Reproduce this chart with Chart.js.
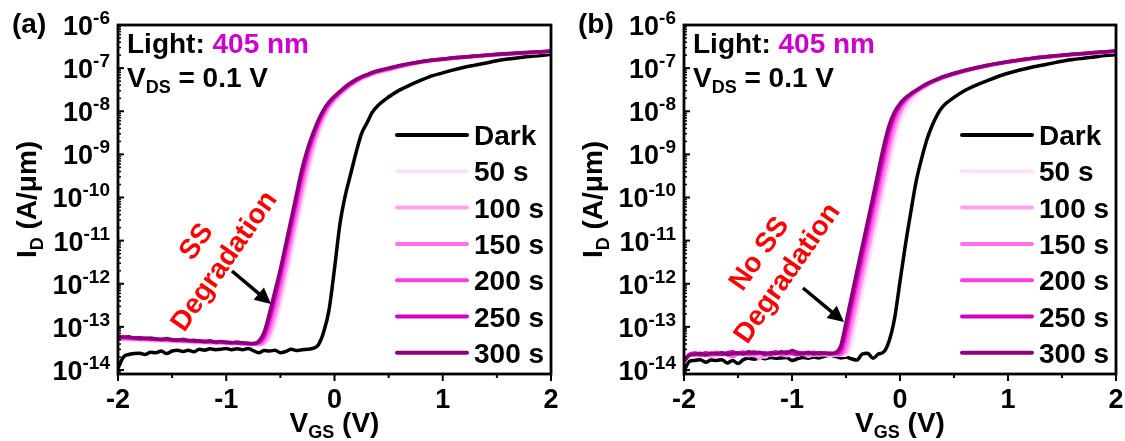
<!DOCTYPE html>
<html>
<head>
<meta charset="utf-8">
<script src="https://cdn.jsdelivr.net/npm/chart.js@4.4.1/dist/chart.umd.min.js"></script>
<style>
  html, body { margin: 0; padding: 0; background: #fff; }
  #wrap { position: relative; width: 1125px; height: 441px; }
  canvas { position: absolute; top: 0; }
  #cA { left: 0; }
  #cB { left: 560px; }
</style>
</head>
<body>
<div id="wrap">
  <canvas id="cA" width="560" height="441" style="width:560px;height:441px"></canvas>
  <canvas id="cB" width="565" height="441" style="width:565px;height:441px"></canvas>
</div>
<script>
// ---- data ----
// gate voltage sweep (V)
const vgs = [
  -2, -1.95, -1.9, -1.85, -1.8, -1.75, -1.7, -1.65, -1.6, -1.55, -1.5, -1.45, -1.4,
  -1.35, -1.3, -1.25, -1.2, -1.15, -1.1, -1.05, -1, -0.95, -0.9, -0.85, -0.8, -0.75,
  -0.7, -0.65, -0.6, -0.55, -0.5, -0.45, -0.4, -0.35, -0.3, -0.25, -0.2, -0.15, -0.1,
  -0.05, 0, 0.05, 0.1, 0.15, 0.2, 0.25, 0.3, 0.35, 0.4,
  0.5, 0.6, 0.7, 0.8, 0.9, 1, 1.1, 1.2, 1.3, 1.4, 1.5, 1.6, 1.7, 1.8, 1.9, 2
];

const seriesLabels = ["Dark", "50 s", "100 s", "150 s", "200 s", "250 s", "300 s"];
const seriesColors = ["#000000", "#ffe0f8", "#ffa0f0", "#ff70ec", "#ff40e6", "#d400bf", "#8b0079"];

// log10(I_D in A/um), panel (a)
const darkA = [
  -13.96, -13.70, -13.64, -13.62, -13.61, -13.64, -13.59, -13.60, -13.56, -13.62, -13.56, -13.54, -13.57,
  -13.54, -13.58, -13.52, -13.54, -13.51, -13.53, -13.52, -13.50, -13.53, -13.51, -13.53, -13.50, -13.55,
  -13.60, -13.55, -13.56, -13.54, -13.60, -13.57, -13.52, -13.55, -13.53, -13.52, -13.50, -13.42, -13.12,
  -12.60, -11.65, -10.62, -9.95, -9.45, -8.95, -8.52, -8.27, -8.02, -7.87,
  -7.67, -7.51, -7.39, -7.28, -7.18, -7.11, -7.04, -6.98, -6.93, -6.88, -6.83, -6.79, -6.76, -6.73, -6.71, -6.68
];
const l50A = [
  -13.30, -13.29, -13.31, -13.30, -13.32, -13.31, -13.33, -13.32, -13.34, -13.33, -13.35, -13.34, -13.36,
  -13.35, -13.37, -13.36, -13.38, -13.37, -13.39, -13.38, -13.40, -13.39, -13.41, -13.40, -13.42, -13.41,
  -13.42, -13.40, -13.30, -13.00, -12.52, -11.95, -11.35, -10.75, -10.13, -9.55, -9.02, -8.58, -8.23,
  -7.97, -7.78, -7.64, -7.52, -7.42, -7.33, -7.26, -7.20, -7.15, -7.11,
  -7.05, -6.98, -6.92, -6.87, -6.83, -6.80, -6.78, -6.76, -6.74, -6.72, -6.70, -6.68, -6.66, -6.65, -6.63, -6.62
];
const l100A = [
  -13.28, -13.29, -13.28, -13.30, -13.29, -13.31, -13.30, -13.32, -13.31, -13.33, -13.32, -13.34, -13.33,
  -13.35, -13.34, -13.36, -13.35, -13.37, -13.36, -13.38, -13.37, -13.39, -13.38, -13.40, -13.39, -13.41,
  -13.41, -13.37, -13.18, -12.78, -12.28, -11.70, -11.10, -10.50, -9.90, -9.33, -8.85, -8.45, -8.14,
  -7.91, -7.74, -7.61, -7.50, -7.40, -7.31, -7.24, -7.19, -7.14, -7.10,
  -7.04, -6.97, -6.91, -6.87, -6.83, -6.80, -6.77, -6.75, -6.73, -6.71, -6.69, -6.68, -6.66, -6.65, -6.63, -6.62
];
const l150A = [
  -13.27, -13.26, -13.28, -13.27, -13.29, -13.28, -13.30, -13.29, -13.31, -13.30, -13.32, -13.31, -13.33,
  -13.32, -13.34, -13.35, -13.34, -13.36, -13.35, -13.37, -13.36, -13.38, -13.37, -13.39, -13.40, -13.39,
  -13.40, -13.32, -13.04, -12.60, -12.08, -11.50, -10.92, -10.32, -9.72, -9.18, -8.73, -8.37, -8.08,
  -7.87, -7.71, -7.59, -7.48, -7.38, -7.30, -7.23, -7.18, -7.13, -7.09,
  -7.03, -6.96, -6.91, -6.86, -6.82, -6.80, -6.77, -6.75, -6.73, -6.71, -6.69, -6.67, -6.66, -6.64, -6.63, -6.61
];
const l200A = [
  -13.25, -13.27, -13.25, -13.28, -13.27, -13.29, -13.28, -13.30, -13.29, -13.31, -13.30, -13.32, -13.31,
  -13.33, -13.32, -13.34, -13.33, -13.35, -13.36, -13.35, -13.37, -13.36, -13.38, -13.39, -13.38, -13.40,
  -13.38, -13.27, -12.92, -12.45, -11.92, -11.35, -10.76, -10.17, -9.58, -9.07, -8.65, -8.31, -8.04,
  -7.84, -7.69, -7.57, -7.46, -7.37, -7.29, -7.22, -7.17, -7.12, -7.08,
  -7.02, -6.96, -6.90, -6.86, -6.82, -6.79, -6.77, -6.75, -6.72, -6.70, -6.69, -6.67, -6.65, -6.64, -6.62, -6.61
];
const l250A = [
  -13.24, -13.23, -13.26, -13.25, -13.28, -13.26, -13.29, -13.28, -13.30, -13.29, -13.31, -13.30, -13.32,
  -13.31, -13.34, -13.33, -13.35, -13.34, -13.36, -13.35, -13.37, -13.36, -13.38, -13.37, -13.39, -13.38,
  -13.36, -13.20, -12.80, -12.30, -11.78, -11.20, -10.62, -10.03, -9.45, -8.97, -8.58, -8.26, -8.00,
  -7.81, -7.67, -7.56, -7.45, -7.36, -7.28, -7.21, -7.16, -7.11, -7.07,
  -7.01, -6.95, -6.90, -6.85, -6.82, -6.79, -6.76, -6.74, -6.72, -6.70, -6.68, -6.67, -6.65, -6.64, -6.62, -6.61
];
const l300A = [
  -13.22, -13.24, -13.23, -13.26, -13.25, -13.27, -13.26, -13.28, -13.29, -13.27, -13.30, -13.31, -13.29,
  -13.32, -13.31, -13.33, -13.34, -13.32, -13.35, -13.34, -13.35, -13.37, -13.35, -13.37, -13.38, -13.39,
  -13.33, -13.12, -12.68, -12.17, -11.66, -11.08, -10.50, -9.91, -9.33, -8.88, -8.52, -8.21, -7.96,
  -7.78, -7.65, -7.54, -7.43, -7.34, -7.26, -7.20, -7.15, -7.10, -7.06,
  -7.00, -6.94, -6.89, -6.85, -6.81, -6.79, -6.76, -6.74, -6.72, -6.70, -6.68, -6.66, -6.65, -6.63, -6.62, -6.60
];

// log10(I_D in A/um), panel (b)
const darkB = [
  -14.02, -13.80, -13.78, -13.76, -13.82, -13.77, -13.78, -13.76, -13.84, -13.78, -13.85, -13.76, -13.73,
  -13.75, -13.72, -13.74, -13.71, -13.73, -13.72, -13.71, -13.78, -13.74, -13.71, -13.73, -13.70, -13.72,
  -13.68, -13.66, -13.68, -13.72, -13.70, -13.74, -13.77, -13.63, -13.61, -13.73, -13.63, -13.58, -13.32,
  -12.80, -11.95, -11.10, -10.34, -9.62, -9.10, -8.65, -8.32, -8.06, -7.88,
  -7.68, -7.52, -7.40, -7.30, -7.20, -7.12, -7.05, -6.99, -6.94, -6.89, -6.84, -6.80, -6.77, -6.74, -6.71, -6.69
];
const l50B = [
  -13.84, -13.67, -13.64, -13.66, -13.62, -13.68, -13.64, -13.66, -13.63, -13.67, -13.65, -13.62, -13.67,
  -13.64, -13.66, -13.70, -13.63, -13.66, -13.62, -13.67, -13.64, -13.66, -13.62, -13.68, -13.64, -13.66,
  -13.63, -13.67, -13.64, -13.66, -13.66, -13.38, -12.78, -12.19, -11.60, -11.02, -10.43, -9.84, -9.25,
  -8.70, -8.25, -7.98, -7.78, -7.63, -7.51, -7.43, -7.35, -7.29, -7.24,
  -7.15, -7.08, -7.02, -6.96, -6.91, -6.87, -6.83, -6.80, -6.77, -6.74, -6.71, -6.69, -6.67, -6.65, -6.63, -6.62
];
const l100B = [
  -13.80, -13.66, -13.62, -13.67, -13.63, -13.60, -13.66, -13.64, -13.62, -13.66, -13.63, -13.61, -13.66,
  -13.63, -13.74, -13.62, -13.65, -13.61, -13.64, -13.66, -13.62, -13.65, -13.60, -13.64, -13.66, -13.62,
  -13.65, -13.62, -13.66, -13.63, -13.58, -13.06, -12.48, -11.89, -11.31, -10.73, -10.14, -9.55, -8.97,
  -8.44, -8.07, -7.82, -7.67, -7.56, -7.47, -7.40, -7.33, -7.27, -7.22,
  -7.14, -7.07, -7.01, -6.95, -6.91, -6.86, -6.83, -6.79, -6.76, -6.73, -6.71, -6.69, -6.67, -6.65, -6.63, -6.62
];
const l150B = [
  -13.82, -13.63, -13.66, -13.61, -13.64, -13.67, -13.62, -13.60, -13.65, -13.70, -13.62, -13.64, -13.61,
  -13.65, -13.62, -13.60, -13.66, -13.63, -13.60, -13.64, -13.61, -13.58, -13.63, -13.66, -13.61, -13.64,
  -13.62, -13.65, -13.61, -13.64, -13.42, -12.84, -12.25, -11.66, -11.08, -10.50, -9.91, -9.32, -8.75,
  -8.28, -7.97, -7.77, -7.64, -7.54, -7.46, -7.39, -7.32, -7.27, -7.22,
  -7.14, -7.07, -7.01, -6.95, -6.90, -6.86, -6.82, -6.79, -6.76, -6.73, -6.71, -6.69, -6.67, -6.65, -6.63, -6.61
];
const l200B = [
  -13.76, -13.65, -13.60, -13.63, -13.66, -13.62, -13.59, -13.63, -13.61, -13.65, -13.62, -13.58, -13.64,
  -13.62, -13.60, -13.66, -13.61, -13.58, -13.63, -13.60, -13.57, -13.62, -13.64, -13.60, -13.62, -13.61,
  -13.63, -13.60, -13.62, -13.63, -13.25, -12.66, -12.07, -11.49, -10.91, -10.33, -9.74, -9.15, -8.60,
  -8.17, -7.91, -7.74, -7.62, -7.53, -7.45, -7.38, -7.32, -7.26, -7.21,
  -7.13, -7.06, -7.00, -6.95, -6.90, -6.86, -6.82, -6.78, -6.75, -6.73, -6.71, -6.68, -6.66, -6.64, -6.63, -6.61
];
const l250B = [
  -13.78, -13.64, -13.62, -13.65, -13.60, -13.63, -13.61, -13.64, -13.60, -13.58, -13.63, -13.60, -13.62,
  -13.58, -13.62, -13.60, -13.64, -13.59, -13.61, -13.58, -13.62, -13.64, -13.60, -13.62, -13.59, -13.63,
  -13.60, -13.63, -13.62, -13.55, -13.08, -12.49, -11.90, -11.32, -10.74, -10.15, -9.56, -8.97, -8.45,
  -8.08, -7.86, -7.71, -7.61, -7.52, -7.44, -7.37, -7.31, -7.26, -7.21,
  -7.13, -7.06, -7.00, -6.94, -6.90, -6.85, -6.82, -6.78, -6.75, -6.73, -6.70, -6.68, -6.66, -6.64, -6.62, -6.61
];
const l300B = [
  -13.80, -13.66, -13.64, -13.62, -13.65, -13.61, -13.63, -13.60, -13.64, -13.62, -13.60, -13.63, -13.58,
  -13.61, -13.59, -13.63, -13.60, -13.62, -13.58, -13.61, -13.55, -13.60, -13.62, -13.59, -13.63, -13.60,
  -13.61, -13.62, -13.60, -13.45, -12.90, -12.31, -11.72, -11.14, -10.56, -9.98, -9.38, -8.80, -8.32,
  -8.01, -7.82, -7.69, -7.59, -7.51, -7.43, -7.36, -7.30, -7.25, -7.20,
  -7.12, -7.05, -6.99, -6.94, -6.89, -6.85, -6.81, -6.78, -6.75, -6.72, -6.70, -6.68, -6.66, -6.64, -6.62, -6.60
];

// axis ticks
const xTickVals = [-2, -1, 0, 1, 2];
const xMinorVals = [-1.5, -0.5, 0.5, 1.5];
const yExp = [-6, -7, -8, -9, -10, -11, -12, -13, -14];
const yMin = 8.07e-15, yMax = 1e-6;

// ---- drawing helpers ----
const FONT = '"Liberation Sans", Arial, sans-serif';
function font(size) { return "bold " + size + "px " + FONT; }

function seg(ctx, x0, y0, x1, y1) {
    ctx.beginPath();
    ctx.moveTo(x0, y0);
    ctx.lineTo(x1, y1);
    ctx.stroke();
}

// draw text made of parts [text, size, dy, color]
function runs(ctx, x, y, parts, align) {
    let w = 0;
    parts.forEach(p => { ctx.font = font(p[1]); p.w = ctx.measureText(p[0]).width; w += p.w; });
    let cx = align === "center" ? x - w / 2 : (align === "right" ? x - w : x);
    ctx.textAlign = "left";
    ctx.textBaseline = "alphabetic";
    parts.forEach(p => {
        ctx.font = font(p[1]);
        ctx.fillStyle = p[3] || "#000";
        ctx.fillText(p[0], cx, y + (p[2] || 0));
        cx += p.w;
    });
}

function arrow(ctx, x0, y0, x1, y1) {
    const ang = Math.atan2(y1 - y0, x1 - x0), L = 16, W = 8;
    const bx = x1 - L * Math.cos(ang), by = y1 - L * Math.sin(ang);
    ctx.strokeStyle = "#000";
    ctx.lineWidth = 3.5;
    ctx.lineCap = "butt";
    seg(ctx, x0, y0, bx + 2 * Math.cos(ang), by + 2 * Math.sin(ang));
    ctx.beginPath();
    ctx.moveTo(x1, y1);
    ctx.lineTo(bx + W * Math.sin(ang), by - W * Math.cos(ang));
    ctx.lineTo(bx - W * Math.sin(ang), by + W * Math.cos(ang));
    ctx.closePath();
    ctx.fillStyle = "#000";
    ctx.fill();
}

// per-panel notes (canvas coordinates)
const panelNotes = {
    cA: { tag: "(a)", red: ["SS", "Degradation"], redAt: [231, 266], arrow: [232, 271, 271, 304] },
    cB: { tag: "(b)", red: ["No SS", "Degradation"], redAt: [234, 278], arrow: [243, 288, 284, 322] }
};

const panelDeco = {
    id: "panelDeco",
    afterDraw(chart) {
        const ctx = chart.ctx, a = chart.chartArea;
        const xs = chart.scales.x, ys = chart.scales.y;
        const note = panelNotes[chart.canvas.id];
        ctx.save();
        ctx.strokeStyle = "#000";
        ctx.lineCap = "butt";

        // x ticks (outward)
        ctx.lineWidth = 2;
        xMinorVals.forEach(v => { const px = xs.getPixelForValue(v); seg(ctx, px, a.bottom, px, a.bottom + 4); });
        xTickVals.forEach(v => { const px = xs.getPixelForValue(v); seg(ctx, px, a.bottom, px, a.bottom + 7); });

        // y ticks (inward)
        yExp.forEach(e => { const py = ys.getPixelForValue(Math.pow(10, e)); seg(ctx, a.left, py, a.left + 6, py); });
        ctx.lineWidth = 1.5;
        for (let e = -15; e < -6; e++) {
            for (let k = 2; k < 10; k++) {
                const v = k * Math.pow(10, e);
                if (v < yMin || v > yMax) continue;
                const py = ys.getPixelForValue(v);
                seg(ctx, a.left, py, a.left + 3, py);
            }
        }

        // frame
        ctx.lineWidth = 2.8;
        ctx.strokeRect(a.left, a.top, a.right - a.left, a.bottom - a.top);

        // tick labels
        ctx.fillStyle = "#000";
        ctx.font = font(27);
        ctx.textAlign = "center";
        ctx.textBaseline = "alphabetic";
        xTickVals.forEach(v => ctx.fillText(String(v), xs.getPixelForValue(v), a.bottom + 34));
        yExp.forEach(e => {
            const py = ys.getPixelForValue(Math.pow(10, e));
            runs(ctx, a.left - 8, py + 10, [["10", 27, 0], [String(e), 19, -11]], "right");
        });

        // axis titles
        runs(ctx, (a.left + a.right) / 2, 432, [["V", 28, 0], ["GS", 18, 6], [" (V)", 28, 0]], "center");
        ctx.save();
        ctx.translate(a.left - 82, (a.top + a.bottom) / 2);
        ctx.rotate(-Math.PI / 2);
        runs(ctx, 0, 0, [["I", 28, 0], ["D", 18, 7], [" (A/\u03bcm)", 28, 0]], "center");
        ctx.restore();

        // panel tag and conditions
        runs(ctx, a.left - 106, 33, [[note.tag, 28, 0]], "left");
        runs(ctx, a.left + 9, 53, [["Light: ", 28, 0, "#000"], ["405 nm", 28, 0, "#cc00cc"]], "left");
        runs(ctx, a.left + 9, 87, [["V", 28, 0], ["DS", 18, 6], [" = 0.1 V", 28, 0]], "left");

        // legend
        chart.data.datasets.forEach((d, i) => {
            const y = a.top + 110 + i * 36.3;
            ctx.strokeStyle = d.borderColor;
            ctx.lineWidth = 4;
            ctx.lineCap = "round";
            seg(ctx, a.right - 154, y, a.right - 84, y);
            ctx.fillStyle = "#000";
            ctx.font = font(28);
            ctx.textAlign = "left";
            ctx.fillText(d.label, a.right - 77, y + 10);
        });

        // red note + arrow
        ctx.save();
        ctx.translate(note.redAt[0], note.redAt[1]);
        ctx.rotate(-55 * Math.PI / 180);
        ctx.fillStyle = "#ff0000";
        ctx.font = font(28);
        ctx.textAlign = "center";
        ctx.fillText(note.red[1], 0, 0);
        ctx.fillText(note.red[0], 0, -34);
        ctx.restore();
        arrow(ctx, note.arrow[0], note.arrow[1], note.arrow[2], note.arrow[3]);

        ctx.restore();
    }
};

function pts(logs) {
    return vgs.map((v, i) => ({ x: v, y: Math.pow(10, logs[i]) }));
}

function makePanel(id, logsList, yWidth) {
    const cv = document.getElementById(id);
    new Chart(cv, {
        type: "line",
        data: {
            datasets: logsList.map((logs, i) => ({
                label: seriesLabels[i],
                data: pts(logs),
                borderColor: seriesColors[i],
                borderWidth: 3.5,
                pointRadius: 0,
                fill: false,
                cubicInterpolationMode: "monotone",
                order: logsList.length - 1 - i
            }))
        },
        options: {
            responsive: false,
            animation: false,
            devicePixelRatio: 1,
            layout: { padding: { left: 0, right: 9, top: 25, bottom: 0 } },
            plugins: { legend: { display: false }, tooltip: { enabled: false } },
            scales: {
                x: {
                    type: "linear", min: -2, max: 2,
                    grid: { display: false }, border: { display: false }, ticks: { display: false },
                    afterFit: s => { s.height = 67; }
                },
                y: {
                    type: "logarithmic", min: yMin, max: yMax,
                    grid: { display: false }, border: { display: false }, ticks: { display: false },
                    afterFit: s => { s.width = yWidth; }
                }
            }
        },
        plugins: [panelDeco]
    });
}

makePanel("cA", [darkA, l50A, l100A, l150A, l200A, l250A, l300A], 118);
makePanel("cB", [darkB, l50B, l100B, l150B, l200B, l250B, l300B], 124);
</script>
</body>
</html>
